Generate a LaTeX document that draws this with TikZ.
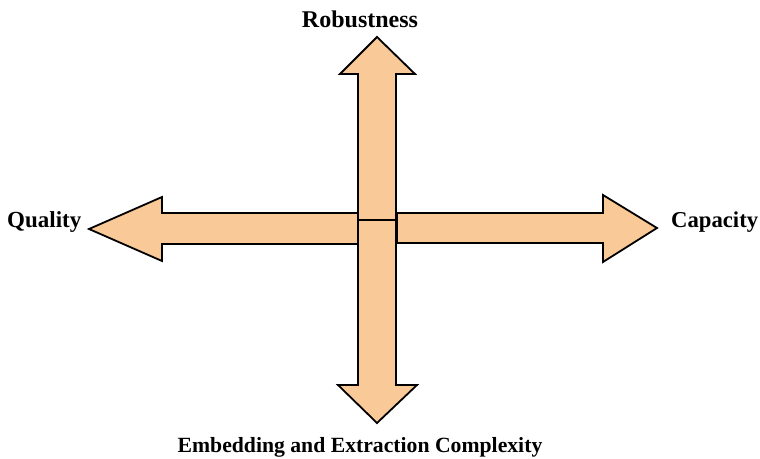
\documentclass[tikz,border=0pt]{standalone}
\usepackage{fontspec}
\setmainfont{Liberation Serif}
\definecolor{peach}{RGB}{250,201,152}
\begin{document}
\begin{tikzpicture}[x=1pt,y=-1pt,
  arrowbody/.style={draw=black,fill=peach,line width=1.8pt,line join=miter},
  axislabel/.style={inner sep=0pt,font=\bfseries}]
\useasboundingbox (0,0) rectangle (760,458);
% horizontal arrows
\draw[arrowbody] (358,213) -- (162,213) -- (162,197) -- (89,229) -- (162,261) -- (162,244) -- (358,244) -- cycle;
\draw[arrowbody] (397,213) -- (603,213) -- (603,195) -- (657,228) -- (603,262) -- (603,243) -- (397,243) -- cycle;
% vertical arrows
\draw[arrowbody] (358,220) -- (358,74) -- (340,74) -- (377,37) -- (415,74) -- (396,74) -- (396,220) -- cycle;
\draw[arrowbody] (358,220) -- (358,385) -- (338,385) -- (377,423) -- (417,385) -- (396,385) -- (396,220) -- cycle;
% labels
\node[axislabel,anchor=base,font=\bfseries\fontsize{24}{28}\selectfont] (rob) at (360,27) {Robustness};
\node[axislabel,anchor=base west,font=\bfseries\fontsize{23}{27}\selectfont] (qual) at (7,227) {Quality};
\node[axislabel,anchor=base west,font=\bfseries\fontsize{22.7}{27}\selectfont] (cap) at (671,227) {Capacity};
\node[axislabel,anchor=base,font=\bfseries\fontsize{21.7}{26}\selectfont] (emb) at (360,452) {Embedding and Extraction Complexity};
\end{tikzpicture}
\end{document}
